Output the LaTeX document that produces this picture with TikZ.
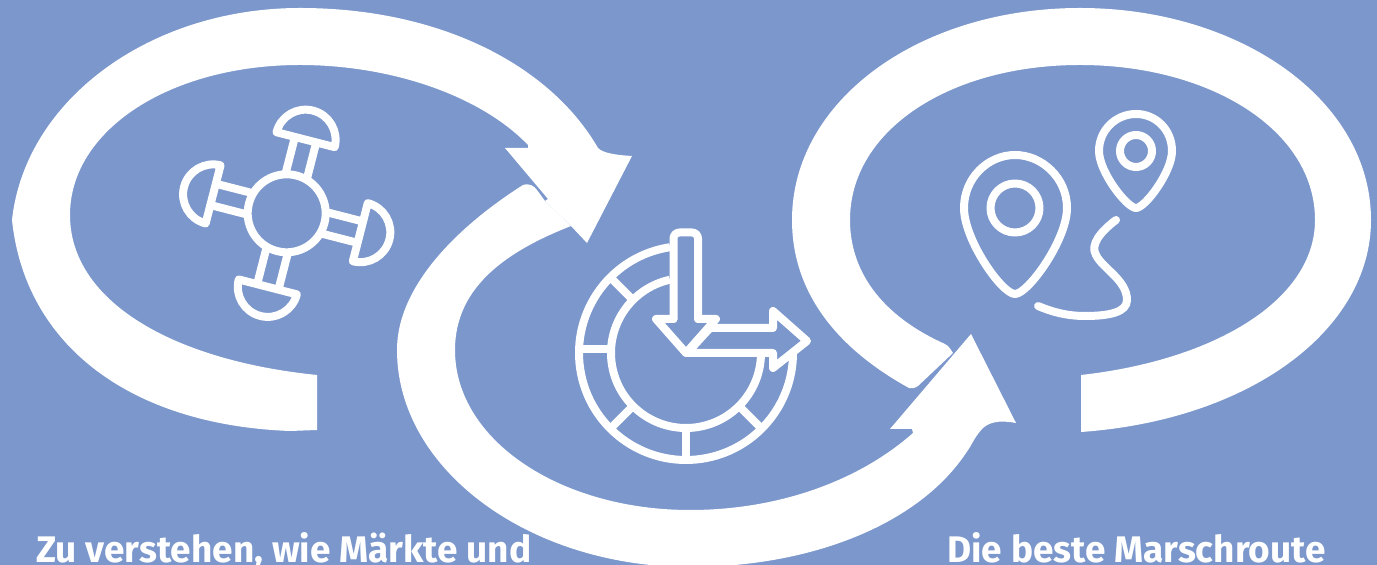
\documentclass[tikz,border=0pt]{standalone}
\usepackage{fontspec}
\setmainfont{Fira Sans}
\definecolor{bgblue}{HTML}{7B97CC}
\tikzset{
  swirl/.style={fill=white,draw=none},
  icon/.style={draw=white,line width=4pt,line cap=round,line join=round},
  caption/.style={text=white,font=\fontsize{18.5}{20}\selectfont\bfseries,anchor=base west,inner sep=0pt}
}
\begin{document}
\begin{tikzpicture}[x=0.5pt,y=-0.5pt]
\useasboundingbox (0,0) rectangle (1377,565);
\clip (0,0) rectangle (1377,565);
\fill[bgblue] (0,0) rectangle (1377,565);
% left swirl
\fill[swirl] (317,430) -- (290,431) .. controls (130,425) and (25,345) .. (12,220)
  .. controls (25,100) and (150,8) .. (300,8)
  .. controls (440,8) and (550,65) .. (598,148)
  .. controls (603,153) and (615,155) .. (632,156)
  -- (587,243) -- (571,226) -- (545,201) -- (548,199) -- (505,148) -- (528,148) -- (528,145)
  .. controls (480,95) and (390,65) .. (300,65)
  .. controls (170,65) and (70,130) .. (70,215)
  .. controls (70,300) and (170,360) .. (317,375) -- cycle;
% middle swirl
\fill[swirl] (571,226) .. controls (510,250) and (455,285) .. (455,350)
  .. controls (455,440) and (560,510) .. (690,510)
  .. controls (780,510) and (860,480) .. (913,433)
  -- (912,429) -- (890,429) -- (971,334) -- (1016,423)
  .. controls (1005,421) and (992,420) .. (983,428)
  .. controls (975,436) and (970,448) .. (968,450)
  .. controls (920,525) and (810,567) .. (690,567)
  .. controls (530,567) and (397,470) .. (397,350)
  .. controls (397,285) and (460,225) .. (523,185)
  .. controls (530,183) and (534,186) .. (537,190)
  -- (545,201) -- cycle;
% right swirl
\fill[swirl] (1081,375) .. controls (1215,360) and (1315,300) .. (1315,220)
  .. controls (1315,130) and (1210,65) .. (1080,65)
  .. controls (950,65) and (850,130) .. (850,220)
  .. controls (850,270) and (880,315) .. (945,344)
  .. controls (949,346) and (951,350) .. (953,353)
  -- (918,386) .. controls (915,388) and (912,389) .. (909,388)
  .. controls (840,350) and (792,295) .. (792,220)
  .. controls (792,100) and (920,8) .. (1080,8)
  .. controls (1240,8) and (1371,100) .. (1371,220)
  .. controls (1371,330) and (1250,420) .. (1081,432) -- cycle;
% clock icon
\begin{scope}[shift={(686,353)},x=0.5pt,y=0.5pt]
  \draw[icon,line cap=butt] (98.6:107) arc[start angle=98.6,end angle=360,radius=107];
  \draw[icon,line cap=butt] (102.4:75) arc[start angle=102.4,end angle=357,radius=75];
  \draw[icon,line cap=butt] (-109,4) -- (-75,4);
  \draw[icon,line cap=butt] (0,-75) -- (0,-109);
  \draw[icon,line cap=butt] (135:75) -- (135:107);
  \draw[icon,line cap=butt] (225:75) -- (225:107);
  \draw[icon,line cap=butt] (315:75) -- (315:107);
  \draw[icon,rounded corners=3pt] (-12.5,34) -- (-12.5,120.5) -- (12,120.5) -- (12,34);
  \draw[icon] (-12.5,34) -- (-30,34) -- (0,0) -- (87,0) -- (87,-15) -- (121,12) -- (87,42) -- (87,25) -- (24,25) -- (2,1);
  \draw[icon] (12,34) -- (30,34) -- (0,0);
\end{scope}
% cross icon
\begin{scope}[shift={(286.7,213.3)},x=0.5pt,y=0.5pt,rotate=-14.4]
  \draw[icon] (0,0) circle[radius=39];
  \foreach \a in {0,90,180,270}{
    \begin{scope}[rotate=\a]
      \draw[icon,line cap=butt] (-11,37) -- (-11,76);
      \draw[icon,line cap=butt] (11,37) -- (11,76);
      \draw[icon] (-30,76) -- (30,76) arc[start angle=0,end angle=180,radius=30];
    \end{scope}
  }
\end{scope}
% pins
\draw[icon] (1015,294) .. controls (1002,294) and (964,240) .. (964,208)
  .. controls (964,178) and (988,155) .. (1015,155)
  .. controls (1042,155) and (1067,178) .. (1067,208)
  .. controls (1067,240) and (1028,294) .. (1015,294) -- cycle;
\draw[icon] (1015,208) circle[radius=24.5];
\draw[icon] (1136,208) .. controls (1127,208) and (1099,172) .. (1099,151)
  .. controls (1099,130) and (1116,114) .. (1136,114)
  .. controls (1156,114) and (1172,130) .. (1172,151)
  .. controls (1172,172) and (1145,208) .. (1136,208) -- cycle;
\draw[icon] (1136,151) circle[radius=16];
\draw[icon] (1116,220) .. controls (1100,232) and (1090,245) .. (1096,255)
  .. controls (1102,268) and (1127,280) .. (1127,300)
  .. controls (1127,312) and (1110,316) .. (1085,316)
  .. controls (1065,316) and (1050,311) .. (1038,306);
% captions
\node[caption] (capa) at (36,563) {Zu verstehen, wie Märkte und};
\node[caption] (capb) at (947,563) {Die beste Marschroute};
\end{tikzpicture}
\end{document}
